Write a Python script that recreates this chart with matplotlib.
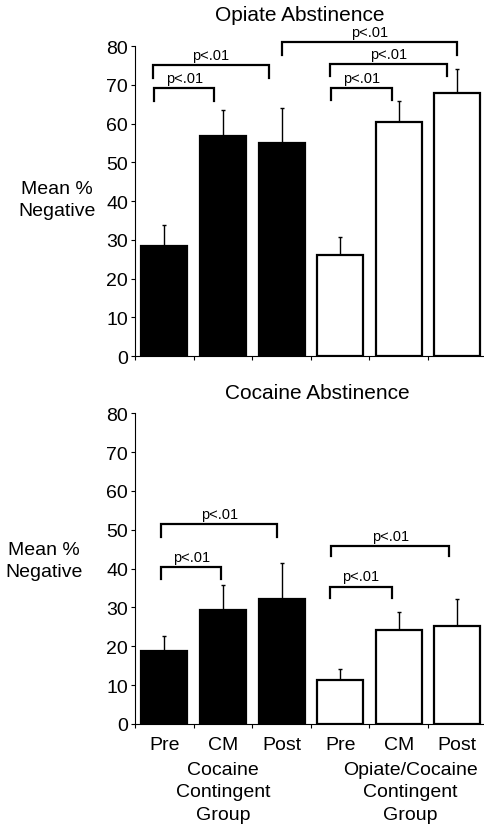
import numpy as np
import matplotlib
matplotlib.use("Agg")
import matplotlib.pyplot as plt

plt.rcParams['font.family'] = ['Liberation Sans', 'DejaVu Sans']

phases = ["Pre", "CM", "Post", "Pre", "CM", "Post"]
groups = ["Cocaine\nContingent\nGroup", "Opiate/Cocaine\nContingent\nGroup"]

opiate_mean = [28.5, 56.9, 55.0, 26.1, 60.5, 68.0]
opiate_err = [5.2, 6.6, 9.0, 4.6, 5.4, 6.2]
cocaine_mean = [18.9, 29.4, 32.2, 11.3, 24.3, 25.3]
cocaine_err = [3.8, 6.5, 9.3, 2.9, 4.6, 6.9]

# brackets: (left x, right x, bar height, leg drop)
opiate_brackets = [(-0.17, 0.85, 69.1, 3.3), (-0.19, 1.78, 75.1, 3.4),
                   (2.0, 5.0, 81.0, 3.3), (2.83, 4.83, 75.4, 3.1),
                   (2.85, 3.88, 69.1, 3.0)]
cocaine_brackets = [(-0.05, 0.97, 40.3, 3.0), (-0.05, 1.93, 51.5, 3.3),
                    (2.83, 3.88, 35.4, 3.0), (2.85, 4.86, 45.9, 2.7)]

colors = ["black"] * 3 + ["white"] * 3


def draw_panel(ax, means, errs, brackets):
    x = np.arange(len(means))
    ax.bar(x, means, width=0.785, color=colors, edgecolor="black", linewidth=1.6, zorder=2)
    ax.errorbar(x, means, yerr=[np.zeros(len(errs)), errs], fmt="none",
                ecolor="black", elinewidth=1.0, capsize=1.5, capthick=1.0, zorder=1)
    for x0, x1, y, d in brackets:
        ax.plot([x0, x0, x1, x1], [y - d, y, y, y - d], color="black", lw=1.6,
                clip_on=False, solid_joinstyle="miter")
        ax.text((x0 + x1) / 2, y + 0.8, "p<.01", ha="center", va="bottom",
                fontsize=10.5)
    ax.set_xlim(-0.5, 5.5)
    ax.set_ylim(0, 80)
    ax.set_yticks(np.arange(0, 81, 10))
    ax.set_xticks(np.arange(-0.5, 5.0, 1.0))
    ax.set_xticklabels([])
    ax.spines["top"].set_visible(False)
    ax.spines["right"].set_visible(False)
    ax.spines["left"].set_bounds(0, 80)
    ax.tick_params(axis="both", direction="out", length=3, width=0.8, labelsize=14, pad=2)


fig = plt.figure(figsize=(4.85, 8.28), dpi=100)
ax1 = fig.add_axes([0.2784, 0.5688, 0.725, 0.3744])
ax2 = fig.add_axes([0.2784, 0.1244, 0.725, 0.3752])

draw_panel(ax1, opiate_mean, opiate_err, opiate_brackets)
draw_panel(ax2, cocaine_mean, cocaine_err, cocaine_brackets)

fig.text(0.619, 0.981, "Opiate Abstinence", ha="center", va="center", fontsize=15)
fig.text(0.654, 0.525, "Cocaine Abstinence", ha="center", va="center", fontsize=15)

ax1.text(-0.222, 0.506, "Mean %\nNegative", transform=ax1.transAxes,
         ha="center", va="center", fontsize=14, linespacing=1.4)
ax2.text(-0.259, 0.525, "Mean %\nNegative", transform=ax2.transAxes,
         ha="center", va="center", fontsize=14, linespacing=1.4)

for i, p in enumerate(phases):
    ax2.text(i, -5.3, p, ha="center", va="center", fontsize=14)
ax2.text(1.0, -9.6, groups[0], ha="center", va="top", fontsize=14, linespacing=1.4)
ax2.text(4.2, -9.6, groups[1], ha="center", va="top", fontsize=14, linespacing=1.4)

fig.savefig("out.png", dpi=100)
